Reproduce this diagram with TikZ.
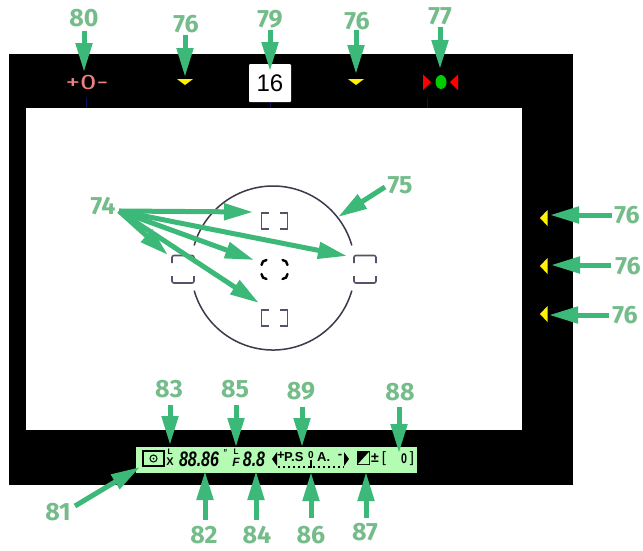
\documentclass[tikz,border=0pt]{standalone}
\usepackage{fontspec}
\setmainfont{Liberation Sans}
\newfontfamily\lblfont{Fira Sans}[UprightFont=* Bold]
\newfontfamily\expofont{Fira Sans}
\usetikzlibrary{arrows.meta}
\definecolor{arrowgreen}{HTML}{3CB878}
\definecolor{labelgreen}{HTML}{74BD8A}
\definecolor{lcdgreen}{HTML}{B4FCB4}
\definecolor{tickblue}{HTML}{101060}
\definecolor{markgrey}{HTML}{5A5068}
\definecolor{pinkmark}{HTML}{F08080}
\tikzset{
  lbl/.style={font=\lblfont\fontsize{25}{25}\selectfont,text=labelgreen,inner sep=0pt},
  arr/.style={draw=arrowgreen,line width=5pt,-{Triangle[length=29pt,width=16pt]}},
  yellowmark/.style={fill=yellow,draw=none},
  redmark/.style={fill=red,draw=none},
  afmark/.style={draw=markgrey,line width=1.6pt},
  afcentre/.style={draw=black,line width=2.4pt,line cap=round},
  lcdtxt/.style={font=\bfseries\itshape\fontsize{21}{21}\selectfont,text=black,inner sep=0pt,transform shape,xscale=.76},
  lcdup/.style={font=\bfseries\fontsize{13}{13}\selectfont,text=black,inner sep=0pt},
  lcdsmall/.style={font=\bfseries\fontsize{8}{8}\selectfont,text=black,inner sep=0pt},
  tick/.style={draw=tickblue,line width=1pt},
  ringline/.style={draw=markgrey!70!black,line width=1.5pt}
}
\newcommand{\callout}[5]{%
  \node[lbl] (l#1) at (#3) {#2};
  \coordinate (s#1) at (#4);
  \coordinate (t#1) at (#5);
  \draw[arr] (s#1) -- (t#1);}
\begin{document}
\begin{tikzpicture}[x=1pt,y=-1pt]
\useasboundingbox (0,0) rectangle (643,550);
\fill[white] (0,0) rectangle (643,550);
% frame
\fill[black] (9,54) rectangle (573,485);
\fill[white] (26,108) rectangle (522,430);
% ticks
\foreach \tx in {86,270,427} \draw[tick] (\tx,98) -- (\tx,108);
% viewfinder circle (broken at the side marks)
\draw[ringline] (273,268) ++(16:82) arc[start angle=16,end angle=164,radius=82];
\draw[ringline] (273,268) ++(-16:82) arc[start angle=-16,end angle=-164,radius=82];
% side AF marks
\foreach \bx in {172,354}{
  \draw[afmark,rounded corners=2pt] (\bx,263) -- (\bx,255.5) -- (\bx+22,255.5) -- (\bx+22,263);
  \draw[afmark,rounded corners=2pt] (\bx,276) -- (\bx,283) -- (\bx+22,283) -- (\bx+22,276);
}
% upper / lower AF marks
\foreach \by in {213,310}{
  \draw[afmark] (269,\by) -- (261.5,\by) -- (261.5,\by+16) -- (269,\by+16);
  \draw[afmark] (280,\by) -- (287.5,\by) -- (287.5,\by+16) -- (280,\by+16);
}
% centre AF mark
\draw[afcentre] (261.5,265) arc[start angle=180,end angle=270,radius=5];
\draw[afcentre] (287.5,265) arc[start angle=0,end angle=-90,radius=5];
\draw[afcentre] (261.5,274) arc[start angle=180,end angle=90,radius=5];
\draw[afcentre] (287.5,274) arc[start angle=0,end angle=90,radius=5];
% top strip
\node[text=pinkmark,inner sep=0pt,font=\expofont\fontsize{21}{21}\selectfont,transform shape,xscale=1.4] (expo) at (87,82) {+0-};
\node[fill=white,minimum width=42pt,minimum height=38pt,inner sep=0pt,rounded corners=1pt,font=\fontsize{24}{24}\selectfont] (num) at (270,83) {16};
\fill[yellowmark] (177,79) -- (193,79) -- (185,85) -- cycle;
\fill[yellowmark] (348,79) -- (364,79) -- (356,85) -- cycle;
\fill[redmark] (423,74.5) -- (423,90) -- (431,82) -- cycle;
\fill[redmark] (458,74.5) -- (458,90) -- (450,82) -- cycle;
\fill[green!80!black] (441,82) ellipse[x radius=5.5,y radius=7];
% right strip marks
\foreach \my in {218,266,314}
  \fill[yellowmark] (540,\my) -- (547.5,\my-8) -- (547.5,\my+8) -- cycle;
% LCD strip
\fill[lcdgreen] (136,447) rectangle (417,473);
\draw[black,line width=1.2pt] (143,451) rectangle (164,466);
\draw[black,line width=1pt] (153.5,458.5) circle[radius=3.5];
\fill[black] (153.5,458.5) circle[radius=1];
\node[lcdsmall] (lcdl) at (170,452) {L};
\node[lcdup,font=\bfseries\fontsize{11}{11}\selectfont] (lcdx) at (170,462) {X};
\node[lcdtxt] (lcdtime) at (199,459) {88.86};
\node[lcdtxt,font=\bfseries\itshape\fontsize{10}{10}\selectfont] (lcdsec) at (225,453) {"};
\node[lcdsmall] (lcdl2) at (236,452) {L};
\node[lcdup,font=\bfseries\itshape\fontsize{12}{12}\selectfont] (lcdf) at (236,462) {F};
\node[lcdtxt] (lcdap) at (254,459) {8.8};
\fill[black] (272,459) -- (277,452) -- (277,466) -- cycle;
\node[lcdup] (lcdplus) at (281,456) {+};
\node[lcdup,anchor=west] (lcdps) at (284,457) {P.S};
\node[lcdsmall,font=\bfseries\fontsize{10}{10}\selectfont] (lcdo) at (311,455) {0};
\node[lcdup,anchor=west] (lcda) at (317,457) {A.};
\node[lcdup] (lcdminus) at (340,456) {-};
\fill[black] (349,459) -- (344,452) -- (344,466) -- cycle;
\draw[black,line width=2pt,dash pattern=on 2pt off 3pt] (278,467) -- (344,467);
\draw[black,line width=2pt] (311,460) -- (311,468);
\fill[black] (357,451) rectangle (370,465);
\fill[lcdgreen] (358,464) -- (369,452) -- (369,464) -- cycle;
\node[lcdup,font=\bfseries\fontsize{14}{14}\selectfont] (lcdpm) at (375,458) {±};
\node[lcdup,font=\fontsize{15}{15}\selectfont] (lcdbl) at (384,459) {[};
\node[lcdtxt,font=\bfseries\fontsize{14}{14}\selectfont] (lcdz) at (404,459) {0};
\node[lcdup,font=\fontsize{15}{15}\selectfont] (lcdbr) at (412,459) {]};
% callouts
\callout{80}{80}{84,18}{84,31}{84,72}
\callout{a76}{76}{186,24}{185,35}{185,77}
\callout{79}{79}{270,19}{270,30}{270,71}
\callout{b76}{76}{357,21}{356,30}{356,74}
\callout{77}{77}{440,16}{440,27}{440,69}
\node[lbl] (l74) at (103,206) {74};
\coordinate (s74) at (119,211);
\foreach \nm/\tp in {a/{253,212},b/{347,256},c/{254,260},d/{259,303},e/{168,255}}{
  \coordinate (t74\nm) at (\tp);
  \draw[arr] (s74) -- (t74\nm);
}
\callout{75}{75}{400,185}{385,187}{338,217}
\callout{c76}{76}{627,215}{612,215}{550,215}
\callout{d76}{76}{628,266}{611,265}{551,265}
\callout{e76}{76}{625,315}{609,315}{549,315}
\callout{83}{83}{169,389}{170,405}{170,445}
\callout{85}{85}{235,389}{236,405}{236,447}
\callout{89}{89}{301,391}{302,407}{302,447}
\callout{88}{88}{400,392}{399,407}{399,453}
\callout{82}{82}{204,535}{205,520}{205,471}
\callout{84}{84}{257,535}{256,520}{256,471}
\callout{86}{86}{311,535}{311,518}{311,472}
\callout{87}{87}{365,532}{366,518}{366,472}
\callout{81}{81}{58,512}{75,506}{140,467}
\end{tikzpicture}
\end{document}
